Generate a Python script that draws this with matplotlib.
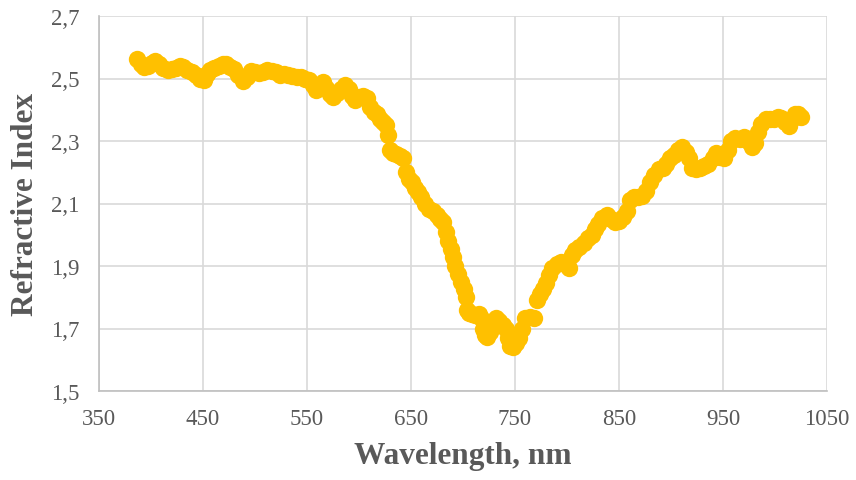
import matplotlib
matplotlib.use("Agg")
import matplotlib.pyplot as plt
import matplotlib.ticker as mticker

# wavelength (nm) and refractive index
wavelength = [387, 390, 393, 397, 401, 404, 408, 412, 416, 420, 424, 428, 431, 435, 439,
              443, 447, 451, 454, 457, 461, 465, 469, 472, 476, 480, 484, 488, 492, 496,
              500, 504, 508, 512, 516, 520, 524, 528, 532, 536, 540, 544, 548, 552, 556,
              559, 562, 565, 568, 572, 575, 579, 583, 587, 590, 593, 596, 600, 604, 608,
              611, 614, 617, 620, 623, 626, 628, 630, 633, 636, 639, 642, 645, 648, 651,
              654, 657, 660, 663, 667, 671, 675, 678, 681, 684, 686, 688, 690, 692, 695,
              698, 701, 703, 704, 706, 709, 712, 715, 717, 719, 721, 723, 726, 729, 732,
              735, 738, 741, 743, 745, 748, 751, 754, 757, 760, 764, 768, 771, 774, 777,
              780, 783, 786, 790, 794, 798, 802, 805, 808, 812, 816, 820, 824, 827, 830,
              834, 838, 842, 846, 850, 854, 858, 861, 864, 868, 872, 876, 880, 884, 888,
              892, 895, 899, 903, 907, 911, 914, 917, 920, 924, 928, 932, 936, 940, 943,
              947, 951, 955, 958, 962, 966, 970, 974, 978, 981, 984, 987, 991, 995, 999,
              1003, 1006, 1010, 1013, 1016, 1019, 1022, 1025]
refr_index = [2.562, 2.545, 2.537, 2.540, 2.550, 2.556, 2.545, 2.535, 2.528, 2.530, 2.535, 2.540, 2.538, 2.528, 2.520,
              2.512, 2.500, 2.495, 2.515, 2.528, 2.535, 2.540, 2.546, 2.545, 2.538, 2.530, 2.510, 2.492, 2.505, 2.525,
              2.522, 2.518, 2.520, 2.528, 2.525, 2.520, 2.512, 2.515, 2.512, 2.508, 2.505, 2.505, 2.500, 2.495, 2.480,
              2.462, 2.475, 2.488, 2.470, 2.450, 2.440, 2.455, 2.465, 2.478, 2.465, 2.445, 2.432, 2.440, 2.445, 2.438,
              2.410, 2.392, 2.385, 2.370, 2.360, 2.350, 2.320, 2.270, 2.262, 2.258, 2.252, 2.245, 2.200, 2.180, 2.170,
              2.150, 2.138, 2.120, 2.100, 2.082, 2.075, 2.062, 2.050, 2.040, 2.010, 1.980, 1.955, 1.930, 1.900, 1.875,
              1.850, 1.825, 1.800, 1.760, 1.750, 1.745, 1.742, 1.748, 1.735, 1.700, 1.680, 1.672, 1.690, 1.720, 1.735,
              1.725, 1.712, 1.700, 1.670, 1.645, 1.640, 1.655, 1.670, 1.700, 1.735, 1.738, 1.735, 1.790, 1.810, 1.825,
              1.845, 1.870, 1.895, 1.905, 1.912, 1.905, 1.895, 1.935, 1.950, 1.960, 1.975, 1.990, 2.000, 2.020, 2.035,
              2.055, 2.062, 2.050, 2.040, 2.045, 2.058, 2.075, 2.110, 2.120, 2.122, 2.125, 2.140, 2.170, 2.190, 2.210,
              2.215, 2.225, 2.245, 2.255, 2.270, 2.280, 2.265, 2.245, 2.215, 2.210, 2.215, 2.220, 2.225, 2.245, 2.262,
              2.250, 2.245, 2.270, 2.300, 2.310, 2.305, 2.312, 2.300, 2.282, 2.295, 2.330, 2.355, 2.370, 2.372, 2.370,
              2.378, 2.375, 2.360, 2.348, 2.370, 2.388, 2.385, 2.378]

x_ticks = [350, 450, 550, 650, 750, 850, 950, 1050]
y_ticks = [1.5, 1.7, 1.9, 2.1, 2.3, 2.5, 2.7]

plt.rcParams['font.family'] = ['Liberation Serif', 'DejaVu Serif']

fig = plt.figure(figsize=(8.56, 4.81), dpi=100)
ax = fig.add_axes([99 / 856, 1 - 392 / 481, 728 / 856, 375 / 481])

ax.plot(wavelength, refr_index, linestyle='none', marker='o', markersize=12.5,
        color='#FFC000', markeredgewidth=0, zorder=3)

ax.set_xlim(350, 1050)
ax.set_ylim(1.5, 2.7)
ax.set_xticks(x_ticks)
ax.set_yticks(y_ticks)
ax.yaxis.set_major_formatter(mticker.FuncFormatter(lambda v, p: f"{v:.1f}".replace('.', ',')))

ax.grid(True, color='#D9D9D9', linewidth=1.2, zorder=0)
ax.set_axisbelow(True)
for side in ['top', 'right']:
    ax.spines[side].set_visible(False)
for side in ['bottom', 'left']:
    ax.spines[side].set_color('#BFBFBF')
    ax.spines[side].set_linewidth(1.2)

ax.tick_params(axis='both', length=0, labelsize=16.5, labelcolor='#595959')
ax.tick_params(axis='y', pad=14)
ax.tick_params(axis='x', pad=12)

ax.set_xlabel('Wavelength, nm', fontsize=22.5, fontweight='bold', color='#595959', labelpad=9)
ax.set_ylabel('Refractive Index', fontsize=22.5, fontweight='bold', color='#595959', labelpad=8)

fig.savefig('out.png', dpi=100)
